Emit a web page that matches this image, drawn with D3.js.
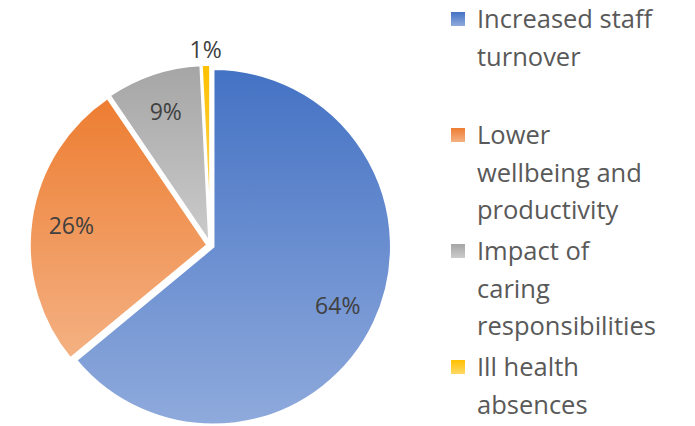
<!DOCTYPE html>
<html>
<head>
<meta charset="utf-8">
<script src="https://cdn.jsdelivr.net/npm/d3@7"></script>
<style>
  html, body { margin: 0; padding: 0; background: #fff; }
  svg { display: block; }
</style>
</head>
<body>
<svg id="chart" width="695" height="426"></svg>
<script>
const categories = ["Increased staff turnover", "Lower wellbeing and productivity", "Impact of caring responsibilities", "Ill health absences"];
const legendLines = [["Increased staff", "turnover"], ["Lower", "wellbeing and", "productivity"], ["Impact of", "caring", "responsibilities"], ["Ill health", "absences"]];
const values = [64, 26.5, 8.7, 0.8];
const labels = ["64%", "26%", "9%", "1%"];
const colorsTop = ["#4472C4", "#ED7D31", "#A5A5A5", "#FFC000"];
const colorsBottom = ["#8FAADC", "#F4B183", "#CBCBCB", "#FFD966"];

const svg = d3.select("#chart");
const W = 695, H = 426;
const cx = 210.5, cy = 245.5, R = 178, explode = 3;

const defs = svg.append("defs");
colorsTop.forEach((c, i) => {
  const g = defs.append("linearGradient").attr("id", "grad" + i)
    .attr("x1", 0).attr("y1", 0).attr("x2", 0).attr("y2", 1);
  g.append("stop").attr("offset", "0%").attr("stop-color", c);
  g.append("stop").attr("offset", "100%").attr("stop-color", colorsBottom[i]);
});

const pie = d3.pie().sort(null).value(d => d);
const arcs = pie(values);
const arc = d3.arc().innerRadius(0).outerRadius(R);
const labelArcIn = d3.arc().innerRadius(R * 0.79).outerRadius(R * 0.79);
const labelArcOut = d3.arc().innerRadius(R * 1.1).outerRadius(R * 1.1);

const g = svg.append("g").attr("transform", `translate(${cx},${cy})`);

g.selectAll("path.slice").data(arcs).enter().append("path")
  .attr("class", "slice")
  .attr("transform", d => {
    const a = (d.startAngle + d.endAngle) / 2;
    return `translate(${Math.sin(a) * explode},${-Math.cos(a) * explode})`;
  })
  .attr("d", arc)
  .attr("fill", (d, i) => `url(#grad${i})`)
  .attr("stroke", "#fff")
  .attr("stroke-width", 2.5)
  .attr("stroke-linejoin", "miter");

g.selectAll("text.lbl").data(arcs).enter().append("text")
  .attr("class", "lbl")
  .attr("transform", d => {
    const p = (d.value < 3 ? labelArcOut : labelArcIn).centroid(d);
    return `translate(${p[0]},${p[1]})`;
  })
  .attr("text-anchor", "middle")
  .attr("dy", "0.36em")
  .attr("font-family", "'Open Sans', 'Noto Sans', sans-serif")
  .attr("font-size", 23)
  .attr("fill", "#404040")
  .text((d, i) => labels[i]);

// Legend
const legY = d3.scaleBand().domain(d3.range(categories.length)).range([0, 464]).paddingInner(0);
const leg = svg.append("g").attr("transform", "translate(451,0)");
const items = leg.selectAll("g.item").data(categories).enter().append("g")
  .attr("class", "item")
  .attr("transform", (d, i) => `translate(0,${legY(i) + 12})`);
items.append("rect").attr("width", 14).attr("height", 14)
  .attr("fill", (d, i) => `url(#grad${i})`);
items.append("text")
  .attr("x", 26)
  .attr("font-family", "'Open Sans', 'Noto Sans', sans-serif")
  .attr("font-size", 25.5)
  .attr("fill", "#595959")
  .each(function(d, i) {
    const t = d3.select(this);
    legendLines[i].forEach((ln, j) => {
      t.append("tspan").attr("x", 26).attr("y", 16 + j * 37.5).text(ln);
    });
  });
</script>
</body>
</html>
